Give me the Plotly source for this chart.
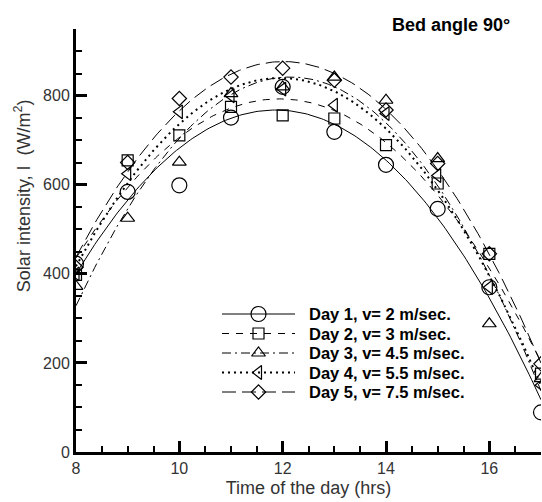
import numpy as np
import plotly.graph_objects as go

# Hour of day for each reading
hours = [8, 9, 10, 11, 12, 13, 14, 15, 16, 17]

# Measured solar intensity (W/m^2) for each test day
day1 = [423, 584, 599, 751, 820, 719, 645, 546, 370, 89]
day2 = [398, 655, 711, 775, 756, 749, 689, 603, 445, 176]
day3 = [372, 525, 651, 805, 820, 842, 790, 659, 288, 165]
day4 = [400, 625, 764, 800, 815, 779, 760, 621, 370, 150]
day5 = [415, 650, 794, 842, 862, 835, 768, 648, 445, 198]

series_names = [
    "Day 1, v= 2 m/sec.",
    "Day 2, v= 3 m/sec.",
    "Day 3, v= 4.5 m/sec.",
    "Day 4, v= 5.5 m/sec.",
    "Day 5, v= 7.5 m/sec.",
]
series_values = [day1, day2, day3, day4, day5]

x_ticks = [8, 10, 12, 14, 16]
y_ticks = [0, 200, 400, 600, 800]

symbols = ["circle-open", "square-open", "triangle-up-open", "triangle-left-open", "diamond-open"]
marker_sizes = [15, 11, 12, 12, 11]
dashes = ["solid", "7px,7px", "9px,4px,2px,4px", "2px,4px", "14px,6px"]
line_widths = [1, 1, 1, 2, 1]

FONT = "Arial, Liberation Sans, sans-serif"

fig = go.Figure()
x_fine = np.linspace(hours[0], hours[-1], 200)
for name, vals, sym, ms, dash, lw in zip(series_names, series_values, symbols,
                                         marker_sizes, dashes, line_widths):
    # quadratic trend through the day's readings
    coeffs = np.polyfit(hours, vals, 2)
    fit = np.polyval(coeffs, x_fine)
    fig.add_trace(go.Scatter(
        x=x_fine, y=fit, mode="lines",
        line=dict(color="black", width=lw, dash=dash),
        showlegend=False, hoverinfo="skip",
    ))
    fig.add_trace(go.Scatter(
        x=hours, y=vals, mode="markers", name=name, showlegend=False,
        marker=dict(symbol=sym, size=ms, color="black",
                    line=dict(color="black", width=1.2)),
    ))

# Key drawn on a hidden overlay axis measured in plot pixels
key_rows = [314, 333.5, 353, 372.5, 392]
key_x0, key_x1, key_text_x = 222, 295, 307
for row, name, sym, ms, dash, lw in zip(key_rows, series_names, symbols,
                                        marker_sizes, dashes, line_widths):
    fig.add_trace(go.Scatter(
        x=[key_x0, key_x1], y=[row, row], mode="lines",
        xaxis="x2", yaxis="y2", showlegend=False, hoverinfo="skip",
        line=dict(color="black", width=lw, dash=dash),
    ))
    fig.add_trace(go.Scatter(
        x=[(key_x0 + key_x1) / 2], y=[row], mode="markers",
        xaxis="x2", yaxis="y2", showlegend=False, hoverinfo="skip",
        marker=dict(symbol=sym, size=ms, color="black",
                    line=dict(color="black", width=1.2)),
    ))
    fig.add_annotation(
        text=f"<b>{name}</b>", xref="x2", yref="y2", x=key_text_x, y=row,
        xanchor="left", yanchor="middle", showarrow=False,
        font=dict(family=FONT, size=16.5, color="black"),
    )

fig.update_layout(
    width=542, height=502,
    margin=dict(l=76, r=1, t=29, b=50),
    paper_bgcolor="white", plot_bgcolor="white",
    font=dict(family=FONT, size=16, color="#333333"),
    showlegend=False,
    xaxis=dict(
        range=[8, 17], tickvals=x_ticks,
        ticks="inside", ticklen=11, tickwidth=2.5, tickcolor="black",
        minor=dict(dtick=0.5, ticks="inside", ticklen=6, tickwidth=2, tickcolor="black"),
        showline=True, linewidth=3, linecolor="black",
        showgrid=False, zeroline=False,
        tickfont=dict(size=16, color="#333333"),
        title=dict(text="Time of the day (hrs)", font=dict(size=18, color="#333333"), standoff=6),
    ),
    yaxis=dict(
        range=[0, 950], tickvals=y_ticks,
        ticks="inside", ticklen=11, tickwidth=2.5, tickcolor="black",
        minor=dict(dtick=50, ticks="inside", ticklen=6, tickwidth=2, tickcolor="black"),
        showline=True, linewidth=3, linecolor="black",
        showgrid=False, zeroline=False,
        tickfont=dict(size=16, color="#333333"),
    ),
    xaxis2=dict(overlaying="x", anchor="y2", range=[76, 541], visible=False,
                fixedrange=True),
    yaxis2=dict(overlaying="y", anchor="x2", range=[452, 29], visible=False,
                fixedrange=True),
)

fig.add_annotation(
    text="Solar intensity, I  (W/m<sup>2</sup>)", textangle=-90,
    xref="paper", yref="paper", x=-0.116, y=0.605,
    xanchor="center", yanchor="middle", showarrow=False,
    font=dict(family=FONT, size=18, color="#333333"),
)
fig.add_annotation(
    text="<b>Bed angle 90°</b>",
    xref="paper", yref="paper", x=0.675, y=1.009,
    xanchor="left", yanchor="middle", showarrow=False,
    font=dict(family=FONT, size=18, color="black"),
)

fig.write_html("out.html")
